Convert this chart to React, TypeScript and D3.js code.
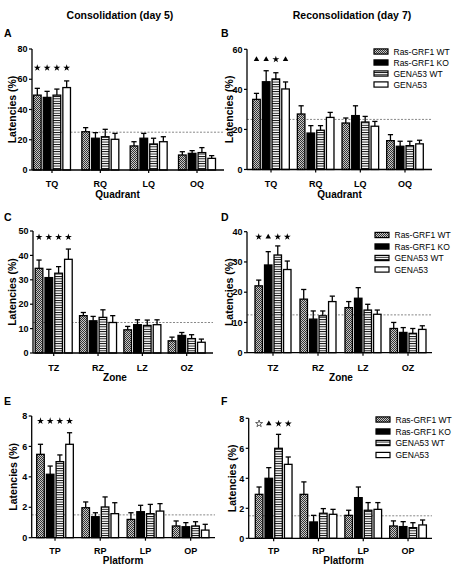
import React from "react";
import * as d3 from "d3";

const seriesNames = ["Ras-GRF1 WT", "Ras-GRF1 KO", "GENA53 WT", "GENA53"];
const quadrantCats = ["TQ", "RQ", "LQ", "OQ"];
const zoneCats = ["TZ", "RZ", "LZ", "OZ"];
const platformCats = ["TP", "RP", "LP", "OP"];

// rows = categories, cols = series
const consQuadMean = [[49.5, 48, 49.5, 54.5], [25.3, 21, 22, 20.3], [15.9, 21, 17.2, 18.7], [9.9, 11, 11.5, 7.7]];
const consQuadErr = [[4.5, 4, 4, 4.4], [2.7, 3.7, 4.9, 3.9], [2.8, 3.2, 3.8, 3.3], [2.2, 1.8, 3.3, 1.8]];
const reconQuadMean = [[35, 43.8, 45.2, 40.2], [27.7, 18.2, 19.6, 26], [23.2, 26.9, 23.7, 21.6], [14.4, 11.6, 11.9, 12.8]];
const reconQuadErr = [[3, 5.5, 3.1, 3.5], [4.1, 3.7, 2.3, 2.5], [2.5, 4.9, 2.8, 2.4], [3, 2.5, 2.2, 1.8]];
const consZoneMean = [[34.7, 30.9, 32.7, 38.4], [15.3, 13.2, 14.6, 12.5], [9.5, 11.6, 11.3, 11.6], [5, 7.2, 5.9, 4.4]];
const consZoneErr = [[3.4, 3.4, 2.7, 4.2], [1.3, 1.8, 3.1, 2.8], [1.4, 2, 2.2, 2], [1.5, 1.2, 1.6, 1.3]];
const reconZoneMean = [[22.1, 29, 32.3, 27.5], [17.7, 11.1, 12.2, 16.9], [14.9, 18, 14.1, 12.7], [8, 6.7, 6.4, 7.7]];
const reconZoneErr = [[1.9, 4.4, 3, 2.8], [3.2, 2.7, 1.6, 1.8], [2, 3.5, 1.9, 1.4], [2, 1.6, 1.6, 1.2]];
const consPlatMean = [[5.48, 4.17, 5, 6.14], [1.97, 1.38, 2.02, 1.58], [1.2, 1.71, 1.58, 1.75], [0.77, 0.72, 0.77, 0.5]];
const consPlatErr = [[0.66, 0.54, 0.44, 0.76], [0.38, 0.26, 0.66, 0.72], [0.44, 0.42, 0.61, 0.49], [0.33, 0.27, 0.28, 0.38]];
const reconPlatMean = [[2.93, 4, 6, 4.93], [2.93, 1.09, 1.67, 1.6], [1.53, 2.71, 1.87, 1.93], [0.82, 0.78, 0.71, 0.89]];
const reconPlatErr = [[0.49, 0.71, 0.93, 0.49], [0.83, 0.44, 0.31, 0.33], [0.34, 0.71, 0.51, 0.45], [0.34, 0.33, 0.33, 0.33]];

const sigA = ["star", "star", "star", "star"];
const sigB = ["triangle", "triangle", "star", "triangle"];
const sigC = ["star", "star", "star", "star"];
const sigD = ["star", "triangle", "star", "star"];
const sigE = ["star", "star", "star", "star"];
const sigF = ["hollowStar", "triangle", "star", "star"];

const yTicksA = [0, 20, 40, 60, 80];
const yTicksB = [0, 20, 40, 60];
const yTicksC = [0, 10, 20, 30, 40, 50];
const yTicksD = [0, 10, 20, 30, 40];
const yTicksEF = [0, 2, 4, 6, 8];

const FONT = "'Liberation Sans', Arial, sans-serif";
const fills = ["url(#checker)", "#000", "url(#hstripes)", "#fff"];

type PanelDef = {
  letter: string; letterX: number; letterY: number;
  cats: string[]; mean: number[][]; err: number[][]; sig: string[]; sigLevel: number;
  chance: number; yMax: number; yTicks: number[];
  axisX: number; axisEnd: number; yTop: number; yBottom: number; r0: number; r1: number; pad: number;
  yTitleX: number; xTitle: string; xTitleX: number; catY: number; xTitleY: number;
  legend?: { x: number; ys: number[] };
};

const panels: PanelDef[] = [
  { letter: "A", letterX: 4, letterY: 37, cats: quadrantCats, mean: consQuadMean, err: consQuadErr, sig: sigA, sigLevel: 67.5,
    chance: 25, yMax: 80, yTicks: yTicksA, axisX: 32, axisEnd: 224, yTop: 49, yBottom: 170, r0: 33.5, r1: 215.5, pad: 0.235,
    yTitleX: 12, xTitle: "Quadrant", xTitleX: 117.5, catY: 186.5, xTitleY: 198 },
  { letter: "B", letterX: 221, letterY: 37, cats: quadrantCats, mean: reconQuadMean, err: reconQuadErr, sig: sigB, sigLevel: 55,
    chance: 25, yMax: 60, yTicks: yTicksB, axisX: 247, axisEnd: 432, yTop: 49.3, yBottom: 169.5, r0: 252.7, r1: 423.3, pad: 0.18,
    yTitleX: 229, xTitle: "Quadrant", xTitleX: 339.5, catY: 186.5, xTitleY: 198, legend: { x: 374, ys: [51.5, 62.5, 73.5, 84.5] } },
  { letter: "C", letterX: 4, letterY: 221, cats: zoneCats, mean: consZoneMean, err: consZoneErr, sig: sigC, sigLevel: 47.5,
    chance: 12.5, yMax: 50, yTicks: yTicksC, axisX: 33, axisEnd: 213, yTop: 231, yBottom: 353, r0: 35.2, r1: 205.2, pad: 0.165,
    yTitleX: 12, xTitle: "Zone", xTitleX: 115, catY: 370.5, xTitleY: 381 },
  { letter: "D", letterX: 221, letterY: 221, cats: zoneCats, mean: reconZoneMean, err: reconZoneErr, sig: sigD, sigLevel: 38.3,
    chance: 12.5, yMax: 40, yTicks: yTicksD, axisX: 247, axisEnd: 432, yTop: 231.7, yBottom: 352.7, r0: 255, r1: 426, pad: 0.2,
    yTitleX: 229, xTitle: "Zone", xTitleX: 341, catY: 370.5, xTitleY: 381, legend: { x: 375, ys: [235, 246.5, 258, 269.5] } },
  { letter: "E", letterX: 4, letterY: 405, cats: platformCats, mean: consPlatMean, err: consPlatErr, sig: sigE, sigLevel: 7.67,
    chance: 1.5, yMax: 8, yTicks: yTicksEF, axisX: 31.7, axisEnd: 215, yTop: 416, yBottom: 537.7, r0: 36.7, r1: 209, pad: 0.19,
    yTitleX: 13, xTitle: "Platform", xTitleX: 123, catY: 553.5, xTitleY: 564 },
  { letter: "F", letterX: 221, letterY: 405, cats: platformCats, mean: reconPlatMean, err: reconPlatErr, sig: sigF, sigLevel: 7.64,
    chance: 1.5, yMax: 8, yTicks: yTicksEF, axisX: 248.7, axisEnd: 432, yTop: 418.3, yBottom: 538.3, r0: 255.3, r1: 426.4, pad: 0.18,
    yTitleX: 232, xTitle: "Platform", xTitleX: 343.5, catY: 553.5, xTitleY: 564, legend: { x: 376, ys: [419.5, 431.5, 443, 455] } },
];

function SigMark({ kind, x, y }: { kind: string; x: number; y: number }) {
  const sym = kind === "triangle" ? d3.symbolTriangle : d3.symbolStar;
  const path = d3.symbol().type(sym).size(kind === "triangle" ? 13 : 15)()!;
  const hollow = kind === "hollowStar";
  return (
    <path d={path} transform={`translate(${x},${y})`} fill={hollow ? "#fff" : "#000"} stroke="#000" strokeWidth={hollow ? 0.6 : 0} />
  );
}

function Panel({ p }: { p: PanelDef }) {
  const y = d3.scaleLinear().domain([0, p.yMax]).range([p.yBottom, p.yTop]);
  const xg = d3.scaleBand().domain(p.cats).range([p.r0, p.r1]).paddingInner(p.pad);
  const xs = d3.scaleBand().domain(seriesNames.map((_, i) => String(i))).range([0, xg.bandwidth()]).paddingInner(0.22);
  const bw = xs.bandwidth();
  const midY = (p.yTop + p.yBottom) / 2;
  return (
    <g>
      <text x={p.letterX} y={p.letterY} fontSize={10.5} fontWeight="bold" fontFamily={FONT}>{p.letter}</text>
      <line x1={p.axisX} x2={p.axisEnd} y1={y(p.chance)} y2={y(p.chance)} stroke="#555" strokeWidth={0.7} strokeDasharray="2,1.5" />
      {p.cats.map((c, ci) => (
        <g key={c}>
          {seriesNames.map((s, si) => {
            const bx = xg(c)! + xs(String(si))!;
            const m = p.mean[ci][si];
            const e = p.err[ci][si];
            const cx = bx + bw / 2;
            return (
              <g key={s}>
                <line x1={cx} x2={cx} y1={y(m)} y2={y(m + e)} stroke="#000" strokeWidth={1.3} />
                <line x1={cx - 2.6} x2={cx + 2.6} y1={y(m + e)} y2={y(m + e)} stroke="#000" strokeWidth={1.3} />
                <rect x={bx} y={y(m)} width={bw} height={p.yBottom - y(m)} fill={fills[si]} stroke="#000" strokeWidth={1.3} />
              </g>
            );
          })}
          <line x1={xg(c)! + xg.bandwidth() / 2} x2={xg(c)! + xg.bandwidth() / 2} y1={p.yBottom} y2={p.yBottom + 3} stroke="#000" strokeWidth={1.2} />
          <text x={xg(c)! + xg.bandwidth() / 2} y={p.catY} textAnchor="middle" fontSize={9} fontWeight="bold" fontFamily={FONT}>{c}</text>
        </g>
      ))}
      {p.sig.map((k, si) => (
        <SigMark key={si} kind={k} x={xg(p.cats[0])! + xs(String(si))! + bw / 2} y={y(p.sigLevel)} />
      ))}
      <line x1={p.axisX} x2={p.axisX} y1={p.yTop} y2={p.yBottom} stroke="#000" strokeWidth={1.3} />
      <line x1={p.axisX} x2={p.axisEnd} y1={p.yBottom} y2={p.yBottom} stroke="#000" strokeWidth={1.3} />
      {p.yTicks.map((t) => (
        <g key={t}>
          <line x1={p.axisX - 3} x2={p.axisX} y1={y(t)} y2={y(t)} stroke="#000" strokeWidth={1.2} />
          <text x={p.axisX - 4.5} y={y(t) + 3.2} textAnchor="end" fontSize={9} fontWeight="bold" fontFamily={FONT}>{t}</text>
        </g>
      ))}
      <text transform={`translate(${p.yTitleX + 3.5},${midY}) rotate(-90)`} textAnchor="middle" fontSize={10.5} fontWeight="bold" fontFamily={FONT}>Latencies (%)</text>
      <text x={p.xTitleX} y={p.xTitleY} textAnchor="middle" fontSize={10} fontWeight="bold" fontFamily={FONT}>{p.xTitle}</text>
      {p.legend && seriesNames.map((s, si) => (
        <g key={s}>
          <rect x={p.legend!.x} y={p.legend!.ys[si] - 2.6} width={14} height={5.2} fill={fills[si]} stroke="#000" strokeWidth={1.2} />
          <text x={p.legend!.x + 19.5} y={p.legend!.ys[si] + 3} fontSize={8.5} fontFamily={FONT}>{s}</text>
        </g>
      ))}
    </g>
  );
}

export default function App() {
  return (
    <svg width={454} height={566} style={{ position: "absolute", left: 0, top: 0, background: "#fff" }}>
      <defs>
        <pattern id="checker" width={2} height={2} patternUnits="userSpaceOnUse">
          <rect width={2} height={2} fill="#c8c8c8" />
          <rect width={1} height={1} fill="#333" />
          <rect x={1} y={1} width={1} height={1} fill="#333" />
        </pattern>
        <pattern id="hstripes" width={4} height={2.4} patternUnits="userSpaceOnUse">
          <rect width={4} height={2.4} fill="#fff" />
          <rect width={4} height={0.9} fill="#000" />
        </pattern>
      </defs>
      <rect width={454} height={566} fill="#fff" />
      <text x={120} y={19} textAnchor="middle" fontSize={10.5} fontWeight="bold" fontFamily={FONT}>Consolidation (day 5)</text>
      <text x={352} y={19} textAnchor="middle" fontSize={10.5} fontWeight="bold" fontFamily={FONT}>Reconsolidation (day 7)</text>
      {panels.map((p) => <Panel key={p.letter} p={p} />)}
    </svg>
  );
}
